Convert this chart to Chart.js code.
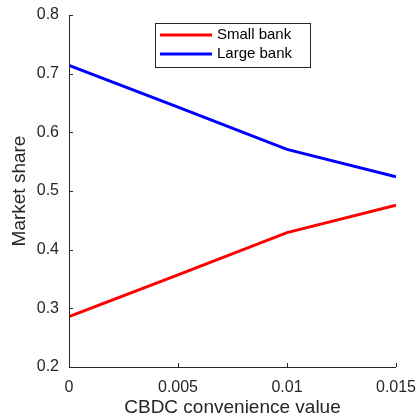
<!DOCTYPE html>
<html>
<head>
<meta charset="utf-8">
<script src="https://cdn.jsdelivr.net/npm/chart.js@4/dist/chart.umd.min.js"></script>
<style>
  html, body { margin: 0; padding: 0; background: #fff; }
  #wrap { width: 416px; height: 417px; }
</style>
</head>
<body>
<div id="wrap"><canvas id="c" width="416" height="417"></canvas></div>
<script>
// CBDC convenience values on the horizontal axis
const convenience = [0, 0.005, 0.01, 0.015];
// Market share of each bank type
const smallBank = [0.286, 0.357, 0.429, 0.476];
const largeBank = [0.714, 0.643, 0.571, 0.524];
const xTicks = [0, 0.005, 0.01, 0.015];
const yTicks = [0.2, 0.3, 0.4, 0.5, 0.6, 0.7, 0.8];

const FONT = 'Liberation Sans, Arial, Helvetica, sans-serif';
const AXIS = '#262626';

function pts(ys) { return convenience.map((x, i) => ({ x: x, y: ys[i] })); }

// Inward tick marks on the left and bottom axes
const innerTicks = {
  id: 'innerTicks',
  afterDraw(chart) {
    const ctx = chart.ctx, a = chart.chartArea;
    const xs = chart.scales.x, ys = chart.scales.y;
    ctx.save();
    ctx.strokeStyle = AXIS;
    ctx.lineWidth = 1;
    ctx.beginPath();
    ctx.moveTo(a.left + 0.5, a.top);
    ctx.lineTo(a.left + 0.5, a.bottom + 0.5);
    ctx.lineTo(a.right, a.bottom + 0.5);
    xTicks.forEach(v => {
      const px = Math.round(xs.getPixelForValue(v)) + 0.5;
      ctx.moveTo(px, a.bottom);
      ctx.lineTo(px, a.bottom - 4);
    });
    yTicks.forEach(v => {
      const py = Math.round(ys.getPixelForValue(v)) + 0.5;
      ctx.moveTo(a.left, py);
      ctx.lineTo(a.left + 4, py);
    });
    ctx.stroke();
    ctx.restore();
  }
};

// Boxed legend in the upper part of the plot
const boxLegend = {
  id: 'boxLegend',
  afterDraw(chart) {
    const ctx = chart.ctx;
    const x0 = 155, y0 = 23, w = 155, h = 44;
    ctx.save();
    ctx.fillStyle = '#fff';
    ctx.fillRect(x0, y0, w, h);
    ctx.strokeStyle = '#262626';
    ctx.lineWidth = 1;
    ctx.strokeRect(x0 + 0.5, y0 + 0.5, w, h);
    ctx.font = '15px ' + FONT;
    ctx.textBaseline = 'middle';
    chart.data.datasets.forEach((ds, i) => {
      const cy = y0 + 12 + i * 19;
      ctx.strokeStyle = ds.borderColor;
      ctx.lineWidth = 3;
      ctx.beginPath();
      ctx.moveTo(x0 + 5, cy);
      ctx.lineTo(x0 + 57, cy);
      ctx.stroke();
      ctx.fillStyle = '#000';
      ctx.fillText(ds.label, x0 + 62, cy);
    });
    ctx.restore();
  }
};

new Chart(document.getElementById('c'), {
  type: 'line',
  data: {
    datasets: [
      { label: 'Small bank', data: pts(smallBank), borderColor: '#ff0000', borderWidth: 3, pointRadius: 0, tension: 0, fill: false },
      { label: 'Large bank', data: pts(largeBank), borderColor: '#0000ff', borderWidth: 3, pointRadius: 0, tension: 0, fill: false }
    ]
  },
  options: {
    responsive: false,
    animation: false,
    devicePixelRatio: 1,
    layout: { padding: { top: 15, right: 20, left: 0, bottom: 0 } },
    plugins: { legend: { display: false }, tooltip: { enabled: false } },
    scales: {
      x: {
        type: 'linear',
        min: 0, max: 0.015,
        afterBuildTicks(s) { s.ticks = xTicks.map(v => ({ value: v })); },
        afterFit(s) { s.height = 50; s.paddingLeft = 0; s.paddingRight = 0; },
        grid: { display: false, drawTicks: false },
        border: { display: false },
        ticks: {
          color: AXIS, padding: 11, maxRotation: 0,
          font: { family: FONT, size: 16 },
          callback: v => String(v)
        },
        title: { display: true, text: 'CBDC convenience value', color: AXIS, padding: { top: 0, bottom: -2 }, font: { family: FONT, size: 19 } }
      },
      y: {
        min: 0.2, max: 0.8,
        afterBuildTicks(s) { s.ticks = yTicks.map(v => ({ value: v })); },
        afterFit(s) { s.width = 69; s.paddingTop = 0; s.paddingBottom = 0; },
        grid: { display: false, drawTicks: false },
        border: { display: false },
        ticks: {
          color: AXIS, padding: 10,
          font: { family: FONT, size: 16 },
          callback: v => String(Math.round(v * 10) / 10)
        },
        title: { display: true, text: 'Market share', color: AXIS, padding: { top: 8, bottom: 0 }, font: { family: FONT, size: 19 } }
      }
    }
  },
  plugins: [innerTicks, boxLegend]
});
</script>
</body>
</html>
